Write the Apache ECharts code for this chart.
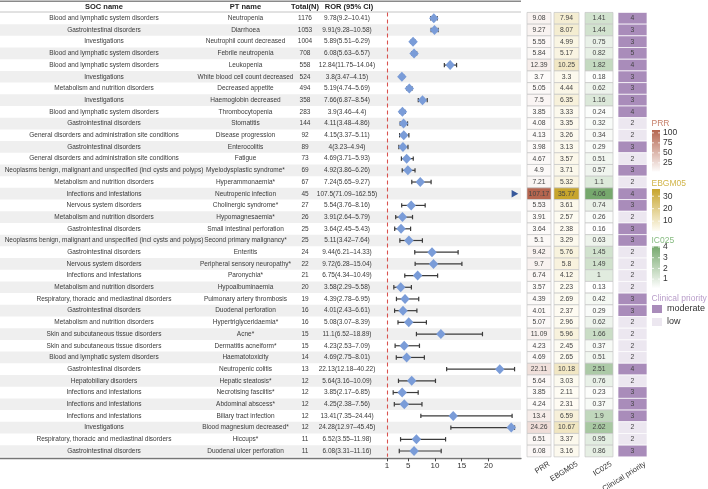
<!DOCTYPE html>
<html><head><meta charset="utf-8">
<script src="https://cdn.jsdelivr.net/npm/echarts@6/dist/echarts.min.js"></script>
<style>html,body{margin:0;padding:0;background:#fff}#c{width:708px;height:489px}</style>
</head><body><div id="c"></div>
<script>
const socNames = [
'Blood and lymphatic system disorders','Gastrointestinal disorders','Investigations','Blood and lymphatic system disorders',
'Blood and lymphatic system disorders','Investigations','Metabolism and nutrition disorders','Investigations',
'Blood and lymphatic system disorders','Gastrointestinal disorders','General disorders and administration site conditions',
'Gastrointestinal disorders','General disorders and administration site conditions',
'Neoplasms benign, malignant and unspecified (incl cysts and polyps)','Metabolism and nutrition disorders',
'Infections and infestations','Nervous system disorders','Metabolism and nutrition disorders','Gastrointestinal disorders',
'Neoplasms benign, malignant and unspecified (incl cysts and polyps)','Gastrointestinal disorders','Nervous system disorders',
'Infections and infestations','Metabolism and nutrition disorders','Respiratory, thoracic and mediastinal disorders',
'Gastrointestinal disorders','Metabolism and nutrition disorders','Skin and subcutaneous tissue disorders',
'Skin and subcutaneous tissue disorders','Blood and lymphatic system disorders','Gastrointestinal disorders',
'Hepatobiliary disorders','Infections and infestations','Infections and infestations','Infections and infestations',
'Investigations','Respiratory, thoracic and mediastinal disorders','Gastrointestinal disorders'];
const ptNames = ['Neutropenia','Diarrhoea','Neutrophil count decreased','Febrile neutropenia','Leukopenia',
'White blood cell count decreased','Decreased appetite','Haemoglobin decreased','Thrombocytopenia','Stomatitis',
'Disease progression','Enterocolitis','Fatigue','Myelodysplastic syndrome*','Hyperammonaemia*','Neutropenic infection',
'Cholinergic syndrome*','Hypomagnesaemia*','Small intestinal perforation','Second primary malignancy*','Enteritis',
'Peripheral sensory neuropathy*','Paronychia*','Hypoalbuminaemia','Pulmonary artery thrombosis','Duodenal perforation',
'Hypertriglyceridaemia*','Acne*','Dermatitis acneiform*','Haematotoxicity','Neutropenic colitis','Hepatic steatosis*',
'Necrotising fasciitis*','Abdominal abscess*','Biliary tract infection','Blood magnesium decreased*','Hiccups*',
'Duodenal ulcer perforation'];
const totalN = [1176,1053,1004,708,558,524,494,358,283,144,92,89,73,69,67,45,27,26,25,25,24,22,21,20,19,16,16,15,15,14,13,12,12,12,12,12,11,11];
const rorEst = [9.78,9.91,5.89,6.08,12.84,3.8,5.19,7.66,3.9,4.11,4.15,4,4.69,4.92,7.24,107.5,5.54,3.91,3.64,5.11,9.44,9.72,6.75,3.58,4.39,4.01,5.08,11.1,4.23,4.69,22.13,5.64,3.85,4.25,13.41,24.28,6.52,6.08];
const rorLow = [9.2,9.28,5.51,5.63,11.75,3.47,4.74,6.87,3.46,3.48,3.37,3.23,3.71,3.86,5.65,71.09,3.76,2.64,2.45,3.42,6.21,6.28,4.34,2.29,2.78,2.43,3.07,6.52,2.53,2.75,12.18,3.16,2.17,2.38,7.35,12.97,3.55,3.31];
const rorHigh = [10.41,10.58,6.29,6.57,14.04,4.15,5.69,8.54,4.4,4.86,5.11,4.94,5.93,6.26,9.27,162.55,8.16,5.79,5.43,7.64,14.33,15.04,10.49,5.58,6.95,6.61,8.39,18.89,7.09,8.01,40.22,10.09,6.85,7.56,24.44,45.45,11.98,11.16];
const prr = [9.08,9.27,5.55,5.84,12.39,3.7,5.05,7.5,3.85,4.08,4.13,3.98,4.67,4.9,7.21,107.17,5.53,3.91,3.64,5.1,9.42,9.7,6.74,3.57,4.39,4.01,5.07,11.09,4.23,4.69,22.11,5.64,3.85,4.24,13.4,24.26,6.51,6.08];
const ebgm05 = [7.94,8.07,4.99,5.17,10.25,3.3,4.44,6.35,3.33,3.35,3.26,3.13,3.57,3.71,5.32,35.77,3.61,2.57,2.38,3.29,5.76,5.8,4.12,2.23,2.69,2.37,2.96,5.96,2.45,2.65,10.18,3.03,2.11,2.31,6.59,10.67,3.37,3.16];
const ic025 = [1.41,1.44,0.75,0.82,1.82,0.18,0.62,1.16,0.24,0.32,0.34,0.29,0.51,0.57,1.1,4.06,0.74,0.26,0.16,0.63,1.45,1.49,1,0.13,0.42,0.29,0.62,1.66,0.37,0.51,2.51,0.76,0.23,0.37,1.9,2.62,0.95,0.86];
const priorityScore = [4,3,3,5,4,3,3,3,4,2,2,3,2,3,2,4,3,2,3,3,2,2,2,2,3,3,2,2,2,2,4,2,3,3,3,2,2,3];
const priorityLevel = ['moderate','moderate','moderate','moderate','moderate','moderate','moderate','moderate','moderate','low',
'low','moderate','low','moderate','low','moderate','moderate','low','moderate','moderate','low','low','low','low','moderate',
'moderate','low','low','low','low','moderate','low','moderate','moderate','moderate','low','low','moderate'];
const heatColumns = ['PRR','EBGM05','IC025','Clinical priority'];
const forestTicks = [1,5,10,15,20];
const prrLegendTicks = [100,75,50,25];
const ebgmLegendTicks = [30,20,10];
const icLegendTicks = [4,3,2,1];
const priorityLevels = ['moderate','low'];

// ---------- layout / style ----------
const FONT = 'Liberation Sans, Arial, sans-serif';
const TOP = 12.45, H = 444.4;
const TABLE_W = 521;
const FOREST_LEFT = 381.6, FOREST_MAX = 25, FOREST_W = 133.5;
const heatGrids = [{left:527,width:24},{left:554,width:25},{left:585,width:28},{left:618,width:29}];
const colX = {soc:104, pt:245.5, n:305, ror:347};
const rows = ptNames.map((_, i) => i);
const levelColor = {moderate:'#a98cba', low:'#ece7f0'};
const PRR_C = ['#fdfbfa','#b5654f'], EB_C = ['#fefcf4','#c7a52d'], IC_C = ['#ffffff','#76a86d'];
const PRR_R = [Math.min(...prr), Math.max(...prr)];
const EB_R = [Math.min(...ebgm05), Math.max(...ebgm05)];
const IC_R = [Math.min(...ic025), Math.max(...ic025)];
const TXT = '#3a3a3a';

const chart = echarts.init(document.getElementById('c'), null, {renderer:'canvas'});

const grids = [
  {left:0, top:TOP, width:TABLE_W, height:H},
  {left:FOREST_LEFT, top:TOP, width:FOREST_W, height:H}
].concat(heatGrids.map(g => ({left:g.left, top:TOP, width:g.width, height:H})));

const hiddenCat = (gi) => ({type:'category', gridIndex:gi, data:rows, inverse:true,
  axisLine:{show:false}, axisTick:{show:false}, axisLabel:{show:false}, splitLine:{show:false}});

const yAxes = [
  Object.assign(hiddenCat(0), {splitArea:{show:true, interval:0, areaStyle:{color:['rgba(255,255,255,0)','#efefef']}}}),
  hiddenCat(1), hiddenCat(2), hiddenCat(3), hiddenCat(4), hiddenCat(5)
];
const xAxes = [
  {type:'value', gridIndex:0, min:0, max:TABLE_W, offset:1.5, axisLine:{show:true, lineStyle:{color:'#777', width:1.3}},
   axisTick:{show:false}, axisLabel:{show:false}, splitLine:{show:false}},
  {type:'value', gridIndex:1, min:0, max:FOREST_MAX, offset:1.5, axisLine:{show:false},
   axisTick:{show:true, customValues:forestTicks, length:3, lineStyle:{color:'#444'}},
   axisLabel:{show:true, customValues:forestTicks, fontSize:8, color:'#333', margin:3, fontFamily:FONT},
   splitLine:{show:false}}
].concat(heatColumns.map((c, k) => ({type:'category', gridIndex:k+2, data:[c], axisLine:{show:false},
   axisTick:{show:false}, axisLabel:{show:false}})));

function tableText(params, api) {
  const i = params.dataIndex;
  const y = api.coord([0, i])[1];
  const t = (x, s) => ({type:'text', x:api.coord([x, i])[0], y:y,
    style:{text:s, textAlign:'center', textVerticalAlign:'middle', fill:TXT, font:'6.5px ' + FONT}});
  return {type:'group', children:[
    t(colX.soc, socNames[i]), t(colX.pt, ptNames[i]), t(colX.n, String(totalN[i])),
    t(colX.ror, rorEst[i] + '(' + rorLow[i] + '–' + rorHigh[i] + ')')
  ]};
}

function ciRender(params, api) {
  const lo = api.value(0), hi = api.value(1), row = api.value(2);
  const yc = api.coord([0, row])[1];
  if (lo >= FOREST_MAX) {
    const p = api.coord([FOREST_MAX, row]);
    return {type:'polygon', shape:{points:[[p[0]-3.5, yc-3.8],[p[0]+3.2, yc],[p[0]-3.5, yc+3.8]]}, style:{fill:'#36589b'}};
  }
  const a = api.coord([lo, row])[0];
  const b = api.coord([Math.min(hi, FOREST_MAX - 0.1), row])[0];
  const st = {stroke:'#3b3b3b', lineWidth:1.2};
  return {type:'group', children:[
    {type:'line', shape:{x1:a, y1:yc, x2:b, y2:yc}, style:st},
    {type:'line', shape:{x1:a, y1:yc-2.2, x2:a, y2:yc+2.2}, style:st},
    {type:'line', shape:{x1:b, y1:yc-2.2, x2:b, y2:yc+2.2}, style:st}
  ]};
}

function heatRender(fmt) {
  return function(params, api) {
    const row = api.value(1);
    const c = api.coord([0, row]);
    const s = api.size([1, 1]);
    const fill = fmt.color ? fmt.color(params.dataIndex) : api.visual('color');
    return {type:'group', children:[
      {type:'rect', shape:{x:c[0]-s[0]/2, y:c[1]-s[1]/2, width:s[0], height:s[1]},
       style:{fill:fill, stroke:fmt.stroke || '#c6c6c6', lineWidth:0.7}},
      {type:'text', x:c[0], y:c[1], style:{text:String(fmt.text(params.dataIndex)), textAlign:'center',
       textVerticalAlign:'middle', fill:'#444', font:'6.8px ' + FONT}}
    ]};
  };
}

const series = [
  {type:'custom', name:'table', xAxisIndex:0, yAxisIndex:0, clip:false, silent:true,
   data: rows.map(i => [0, i]), encode:{x:0, y:1}, renderItem: tableText, z:3},
  {type:'custom', name:'ci', xAxisIndex:1, yAxisIndex:1, clip:false, silent:true,
   data: rows.map(i => [rorLow[i], rorHigh[i], i]), encode:{x:[0,1], y:2}, renderItem: ciRender, z:4},
  {type:'scatter', name:'ROR', xAxisIndex:1, yAxisIndex:1, clip:true, symbol:'diamond', symbolSize:[9.5,10],
   itemStyle:{color:'#7a9cd8', opacity:1}, data: rows.map(i => [rorEst[i], i]), z:5,
   markLine:{silent:true, symbol:['none','none'], label:{show:false},
     lineStyle:{color:'#d9534f', type:[4,3], width:1.1}, data:[{xAxis:1}]}},
  {type:'custom', name:'PRR', xAxisIndex:2, yAxisIndex:2, data: rows.map(i => [0, i, prr[i]]),
   encode:{x:0, y:1}, renderItem: heatRender({text:i => prr[i]})},
  {type:'custom', name:'EBGM05', xAxisIndex:3, yAxisIndex:3, data: rows.map(i => [0, i, ebgm05[i]]),
   encode:{x:0, y:1}, renderItem: heatRender({text:i => ebgm05[i]})},
  {type:'custom', name:'IC025', xAxisIndex:4, yAxisIndex:4, data: rows.map(i => [0, i, ic025[i]]),
   encode:{x:0, y:1}, renderItem: heatRender({text:i => ic025[i]})},
  {type:'custom', name:'Clinical priority', xAxisIndex:5, yAxisIndex:5, data: rows.map(i => [0, i, priorityScore[i]]),
   encode:{x:0, y:1}, renderItem: heatRender({text:i => priorityScore[i], color:i => levelColor[priorityLevel[i]], stroke:'#ffffff'})}
];

const visualMap = [
  {type:'continuous', show:false, seriesIndex:3, dimension:2, min:PRR_R[0], max:PRR_R[1], inRange:{color:PRR_C}},
  {type:'continuous', show:false, seriesIndex:4, dimension:2, min:EB_R[0], max:EB_R[1], inRange:{color:EB_C}},
  {type:'continuous', show:false, seriesIndex:5, dimension:2, min:IC_R[0], max:IC_R[1], inRange:{color:IC_C}}
];

// ---------- graphic: header, column titles, legends ----------
const g = [];
g.push({type:'line', shape:{x1:0, y1:1.2, x2:TABLE_W, y2:1.2}, style:{stroke:'#8a8a8a', lineWidth:1.6}});
g.push({type:'line', shape:{x1:0, y1:12, x2:TABLE_W, y2:12}, style:{stroke:'#b5b5b5', lineWidth:0.8}});
[['SOC name',colX.soc],['PT name',colX.pt],['Total(N)',colX.n],['ROR (95% CI)',349]].forEach(([t,x]) => {
  g.push({type:'text', x:x, y:6.6, style:{text:t, textAlign:'center', textVerticalAlign:'middle',
    fill:'#222', font:'bold 7.5px ' + FONT}});
});
heatColumns.forEach((c, k) => {
  const hg = heatGrids[k];
  g.push({type:'text', x:hg.left + hg.width - 4, y:460, rotation:32 * Math.PI / 180, originX:0, originY:0,
    style:{text:c, textAlign:'right', textVerticalAlign:'top', fill:'#333', font:'7.6px ' + FONT}});
});
function gradLegend(title, titleColor, ty, barTop, barH, colors, range, ticks) {
  g.push({type:'text', x:651.5, y:ty, style:{text:title, textVerticalAlign:'middle', fill:titleColor, font:'8.5px ' + FONT}});
  g.push({type:'rect', shape:{x:652, y:barTop, width:8, height:barH},
    style:{fill:new echarts.graphic.LinearGradient(0,0,0,1,[{offset:0,color:colors[1]},{offset:1,color:colors[0]}])}});
  ticks.forEach(v => {
    const y = barTop + (range[1] - v) / (range[1] - range[0]) * barH;
    g.push({type:'line', shape:{x1:652, y1:y, x2:654, y2:y}, style:{stroke:'#fff', lineWidth:0.8}});
    g.push({type:'line', shape:{x1:658, y1:y, x2:660, y2:y}, style:{stroke:'#fff', lineWidth:0.8}});
    g.push({type:'text', x:663, y:y, style:{text:String(v), textVerticalAlign:'middle', fill:'#333', font:'8.5px ' + FONT}});
  });
}
gradLegend('PRR', '#c67f69', 124, 130, 41.4, PRR_C, PRR_R, prrLegendTicks);
gradLegend('EBGM05', '#d1b54a', 183.5, 189, 42, EB_C, EB_R, ebgmLegendTicks);
gradLegend('IC025', '#86bb80', 240.5, 246.4, 42, IC_C, IC_R, icLegendTicks);
g.push({type:'text', x:651.5, y:298.5, style:{text:'Clinical priority', textVerticalAlign:'middle', fill:'#b89cc9', font:'8.5px ' + FONT}});
priorityLevels.forEach((lv, k) => {
  const y = 305 + k * 13;
  g.push({type:'rect', shape:{x:652, y:y, width:10, height:8}, style:{fill:levelColor[lv]}});
  g.push({type:'text', x:667, y:y + 4, style:{text:lv, textVerticalAlign:'middle', fill:'#333', font:'9px ' + FONT}});
});

chart.setOption({
  animation:false,
  backgroundColor:'#ffffff',
  textStyle:{fontFamily:FONT},
  grid: grids,
  xAxis: xAxes,
  yAxis: yAxes,
  visualMap: visualMap,
  series: series,
  graphic: g
});
</script>
</body></html>
